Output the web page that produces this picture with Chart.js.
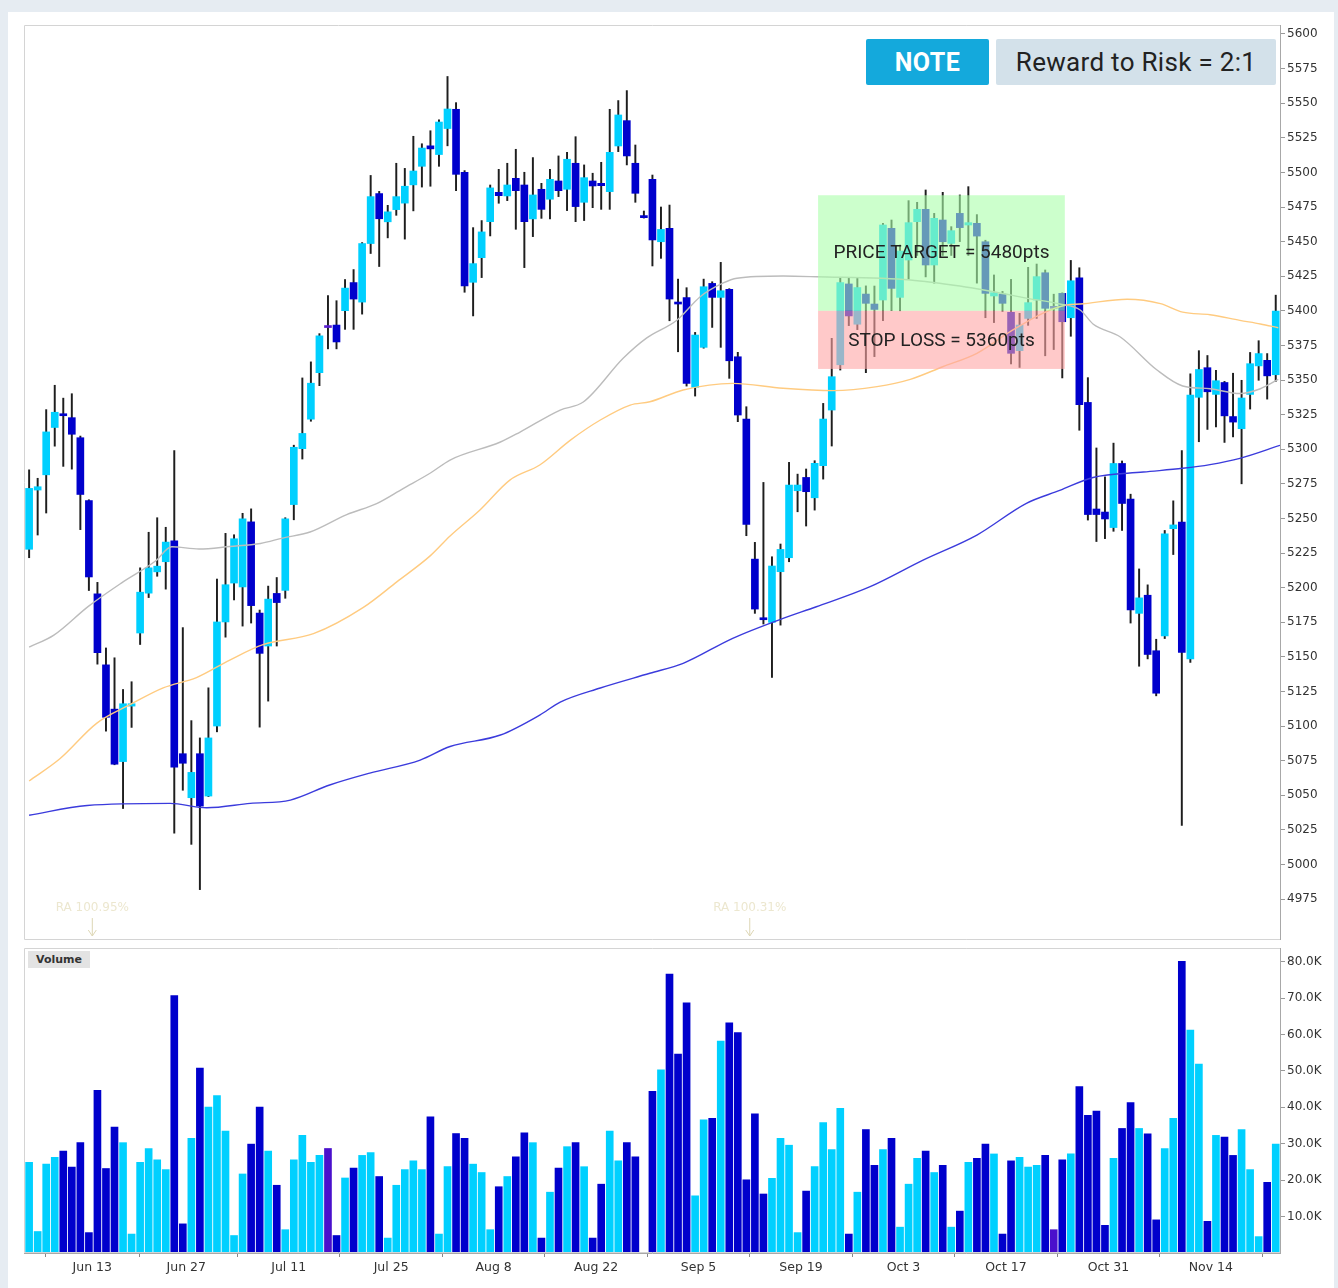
<!DOCTYPE html>
<html><head><meta charset="utf-8">
<script src="https://cdn.jsdelivr.net/npm/chart.js@4"></script>
<style>
html,body{margin:0;padding:0;width:1338px;height:1288px;overflow:hidden;background:#e6ecf2;}
#panel{position:absolute;left:8px;top:12px;width:1326px;height:1276px;background:#fff;}
#pc{position:absolute;left:24px;top:25px;}
#vc{position:absolute;left:24px;top:948px;}
.note{position:absolute;left:866px;top:39px;width:123px;height:46px;background:#14a9dc;color:#fff;font:bold 25px Roboto,'Noto Sans',sans-serif;display:flex;align-items:center;justify-content:center;border-radius:2px;letter-spacing:0.5px;}
.rr{position:absolute;left:996px;top:39px;width:280px;height:46px;background:#d3e1ea;color:#222;font:26px Roboto,'Noto Sans',sans-serif;display:flex;align-items:center;justify-content:center;border-radius:2px;letter-spacing:0.3px;}
.vol{position:absolute;left:28px;top:951px;width:62px;height:17px;background:#e3e3e3;color:#333;font:bold 11px 'DejaVu Sans',sans-serif;display:flex;align-items:center;justify-content:center;}
</style></head>
<body>
<div id="panel"></div>
<canvas id="pc" width="1314" height="915"></canvas>
<canvas id="vc" width="1314" height="340"></canvas>
<div class="note">NOTE</div>
<div class="rr">Reward to Risk = 2:1</div>
<div class="vol">Volume</div>
<script>
// ---- data (one entry per trading session) ----
const opens = [5227.7,5270.5,5281.5,5315.7,5325.4,5322.8,5308.3,5262.9,5195.5,5144.2,5112.2,5074.3,5114.4,5167.2,5196.0,5211.4,5218.7,5233.8,5080.0,5048.2,5080.0,5049.4,5100.0,5175.2,5203.3,5200.5,5247.5,5181.6,5157.8,5195.8,5198.0,5260.0,5300.4,5321.7,5355.3,5387.9,5389.7,5400.1,5420.4,5406.3,5448.6,5484.7,5464.3,5473.1,5477.8,5491.0,5504.4,5519.2,5512.9,5531.7,5545.6,5500.1,5420.6,5438.4,5464.4,5485.6,5483.0,5495.7,5490.9,5466.4,5487.8,5480.6,5493.8,5487.8,5506.6,5478.4,5493.8,5492.1,5486.1,5519.1,5537.4,5506.6,5468.8,5495.0,5449.9,5459.6,5405.6,5409.5,5344.7,5373.6,5419.8,5409.7,5415.5,5366.8,5321.8,5220.6,5177.5,5174.9,5211.5,5221.6,5270.0,5279.6,5264.9,5288.1,5328.3,5361.0,5419.4,5390.3,5412.1,5404.9,5407.8,5459.6,5409.7,5436.7,5464.4,5473.3,5433.1,5465.6,5448.7,5470.4,5462.0,5463.2,5449.9,5410.7,5412.1,5398.9,5371.2,5394.5,5407.8,5427.5,5401.8,5412.6,5395.0,5423.9,5333.8,5256.8,5254.6,5243.4,5289.7,5264.0,5181.4,5194.5,5154.4,5165.1,5242.6,5247.4,5148.5,5337.5,5358.9,5339.6,5348.2,5323.6,5314.8,5339.6,5360.2,5364.2,5353.8];
const highs = [5285.1,5279.0,5328.6,5346.2,5336.9,5340.1,5309.5,5263.5,5203.8,5156.4,5149.3,5126.4,5132.0,5214.3,5240.0,5250.5,5243.6,5299.1,5171.1,5103.9,5091.4,5127.6,5206.2,5239.2,5238.2,5253.7,5256.9,5183.8,5201.1,5207.3,5250.5,5302.9,5351.5,5363.1,5383.5,5411.0,5407.3,5422.6,5429.8,5449.3,5497.8,5486.3,5476.2,5506.6,5502.9,5526.1,5520.7,5530.1,5538.0,5569.3,5550.4,5501.3,5460.1,5465.2,5490.9,5502.2,5506.6,5516.7,5500.1,5510.7,5492.1,5502.2,5511.9,5514.5,5525.8,5505.4,5499.4,5507.3,5545.6,5551.9,5559.1,5519.8,5472.1,5498.1,5475.0,5476.4,5422.9,5416.7,5384.4,5422.9,5421.0,5435.0,5416.0,5370.0,5330.7,5232.7,5276.0,5222.3,5231.5,5290.5,5282.0,5285.7,5291.7,5333.1,5380.1,5423.9,5423.9,5423.9,5418.0,5417.9,5463.2,5465.6,5447.5,5479.6,5478.4,5487.3,5470.4,5485.6,5460.8,5483.7,5489.7,5469.5,5451.0,5425.9,5414.0,5422.7,5398.2,5431.4,5433.8,5429.5,5412.0,5413.0,5436.4,5431.1,5351.7,5300.9,5280.0,5304.4,5291.5,5267.5,5213.5,5202.0,5162.7,5241.3,5262.7,5299.0,5354.4,5371.2,5367.7,5357.0,5349.0,5354.9,5349.8,5369.9,5378.4,5369.1,5411.3];
const lows = [5221.6,5238.0,5253.9,5302.2,5287.6,5285.6,5241.9,5197.9,5144.7,5096.3,5072.0,5040.4,5099.0,5158.9,5192.8,5208.2,5198.9,5022.6,5053.6,5014.5,4981.8,5049.0,5095.8,5164.2,5191.1,5172.2,5174.4,5099.2,5118.0,5157.8,5192.3,5249.0,5292.9,5320.2,5345.9,5372.5,5372.5,5386.6,5386.6,5397.6,5441.4,5432.0,5452.7,5469.0,5451.8,5472.2,5489.4,5490.0,5504.4,5519.2,5486.8,5413.4,5396.3,5424.0,5454.1,5477.7,5479.6,5458.9,5431.2,5453.6,5466.8,5466.4,5482.5,5472.4,5464.4,5465.2,5474.5,5473.3,5473.3,5515.0,5505.4,5478.4,5467.0,5432.4,5437.9,5392.8,5370.4,5345.6,5338.4,5373.0,5388.0,5373.6,5351.2,5319.9,5237.5,5181.4,5173.7,5135.1,5172.9,5218.7,5254.8,5244.5,5256.0,5278.4,5302.3,5357.2,5389.3,5386.4,5355.3,5366.9,5392.9,5400.1,5400.0,5422.7,5440.0,5424.5,5420.0,5440.0,5440.0,5450.0,5440.0,5420.0,5395.0,5391.5,5399.5,5361.6,5359.1,5389.5,5394.5,5367.5,5372.0,5351.5,5381.6,5313.7,5248.8,5233.3,5235.4,5240.7,5241.3,5174.4,5143.2,5148.5,5121.8,5163.2,5223.9,5028.2,5145.9,5305.4,5314.3,5316.1,5304.9,5308.9,5275.0,5329.0,5349.8,5336.2,5349.0];
const closes = [5271.7,5272.9,5312.5,5326.7,5324.2,5310.8,5267.3,5207.7,5153.0,5106.3,5072.4,5116.1,5116.1,5196.7,5214.3,5215.5,5232.9,5070.2,5073.1,5066.5,5042.1,5091.4,5175.2,5202.1,5235.3,5249.7,5187.0,5152.5,5191.7,5189.2,5249.7,5301.4,5311.4,5347.7,5381.9,5387.9,5377.5,5416.4,5408.5,5448.6,5482.5,5466.5,5471.5,5482.5,5490.0,5501.0,5517.6,5517.0,5536.4,5545.8,5498.6,5417.9,5434.1,5457.0,5488.8,5483.2,5490.9,5486.8,5464.4,5483.7,5473.3,5495.0,5486.8,5509.5,5475.3,5496.2,5490.2,5490.4,5514.5,5541.5,5511.9,5484.9,5467.3,5451.2,5458.8,5408.5,5404.9,5347.6,5382.5,5417.4,5409.7,5414.5,5363.9,5324.7,5245.7,5184.5,5176.8,5215.6,5227.6,5274.1,5274.1,5269.3,5289.8,5321.8,5352.4,5420.4,5396.3,5416.8,5405.4,5401.0,5462.0,5416.2,5443.2,5463.7,5473.3,5433.1,5466.8,5449.9,5457.9,5460.1,5463.7,5454.0,5412.6,5413.1,5405.4,5369.3,5389.7,5405.9,5424.7,5401.8,5401.8,5392.1,5421.7,5332.2,5252.8,5252.8,5249.6,5289.7,5260.8,5183.8,5192.6,5151.7,5123.7,5238.9,5245.3,5153.1,5339.1,5357.6,5341.5,5349.5,5324.1,5319.6,5337.0,5361.8,5369.1,5353.0,5399.8];
const volumes = [24.9,5.9,24.4,26.3,28.0,23.6,30.3,5.6,44.7,23.2,34.6,30.3,5.2,24.9,28.7,25.6,22.9,70.7,8.0,31.5,50.8,40.1,43.2,33.5,4.8,21.7,29.9,40.1,28.0,18.6,6.4,25.6,32.3,24.9,26.8,28.7,4.8,20.6,23.3,26.8,27.6,21.0,4.1,18.6,22.9,25.3,22.9,37.4,5.2,23.7,32.8,31.5,24.4,22.1,6.4,18.2,21.0,26.4,33.0,30.3,4.1,16.7,23.3,29.2,30.3,23.7,4.1,18.9,33.5,25.3,30.3,26.4,0,44.4,50.3,76.6,54.6,68.7,15.7,36.6,37.0,58.2,63.2,60.5,20.1,38.2,16.2,20.5,31.5,29.6,5.6,17.0,23.7,35.8,28.4,39.7,5.2,16.7,33.9,24.1,28.4,31.5,7.1,18.9,26.0,28.0,22.1,24.1,7.1,11.5,24.9,26.0,29.9,27.2,5.2,25.3,26.3,23.6,24.1,26.8,6.4,25.6,27.2,45.7,37.8,39.0,7.6,26.0,34.2,41.3,34.2,32.7,9.1,28.7,37.0,80.1,61.2,51.9,8.7,32.3,31.8,26.8,33.9,22.9,4.5,19.4,29.9];
// moving averages: [session index, value]
const maGray = [[0,5157],[2.9,5165.7],[6.9,5186.3],[10.8,5203.3],[14.8,5219.2],[16.7,5229.5],[19.9,5227.9],[23.5,5229.7],[27.1,5231.9],[29.7,5235.8],[32.9,5240.2],[37.2,5252.8],[40.7,5260.7],[43.8,5271.6],[47,5282.8],[49.3,5292.2],[55.2,5305.2],[57.5,5312.4],[62.2,5328.3],[64.9,5334.1],[69.6,5365.9],[72.3,5380.3],[75.9,5393.4],[78.6,5410.2],[81.3,5420.1],[82.9,5423.5],[88.3,5425.1],[92.2,5424.6],[103.2,5422.3],[109,5417.9],[112.9,5413.8],[116.8,5409.2],[120.7,5404.9],[123.1,5400.6],[124.6,5390.5],[127.8,5381.1],[132.1,5357.2],[135.1,5345.7],[138.3,5343.7],[141.8,5340.2],[144.2,5343.7],[146.3,5350.4]];
const maOrange = [[0,5060.3],[3.6,5076.3],[7.9,5101.9],[11.8,5115.4],[15.7,5127.6],[19.6,5135],[23.5,5147.7],[27.4,5158.8],[33.3,5166.7],[39.1,5185.5],[43.1,5204.3],[47,5223.1],[49.3,5237.3],[52.8,5256.1],[56.3,5277.7],[59.8,5288.6],[63.4,5306.6],[66.9,5321.1],[70.4,5331.9],[72.7,5334.3],[76.6,5342.8],[82.4,5347.6],[88.3,5344],[94.2,5342.3],[99.3,5345.2],[103.2,5350.5],[107,5359.6],[111,5369.3],[114.9,5384.9],[118.7,5398.2],[121.5,5404.2],[123.1,5404.9],[128.6,5408.4],[132.5,5405.2],[135.1,5399],[138.3,5397.2],[141.8,5393.1],[144.2,5390.5],[146.3,5387.8]];
const maBlue = [[0,5035.5],[6.8,5042.6],[16.5,5044.1],[20.8,5040.9],[25.9,5044.1],[30.6,5046.5],[35.2,5057.4],[39.9,5066],[45.8,5075.4],[49.3,5085.2],[55.2,5093.5],[59.8,5107.9],[62.2,5117.3],[66.9,5127.5],[72.7,5138.1],[76.6,5145.3],[82.4,5163.4],[88.3,5177.8],[92.2,5186.2],[98.5,5200.7],[104.7,5219.9],[111,5238],[116.8,5260.9],[120.7,5270.2],[124.6,5279.6],[130.5,5283.5],[135.1,5286.2],[138.3,5288.9],[141.8,5293.4],[146.5,5302.8]];
const tickPos = [7.4,18.4,30.4,42.4,54.4,66.4,78.4,90.4,102.4,114.4,126.4,138.4];
const tickLabels = ['Jun 13','Jun 27','Jul 11','Jul 25','Aug 8','Aug 22','Sep 5','Sep 19','Oct 3','Oct 17','Oct 31','Nov 14'];
const zone = {from:92.4, to:121.3, stop:5358, entry:5400, target:5483.5};
const zoneLabels = ['PRICE TARGET = 5480pts','STOP LOSS = 5360pts'];
const raNotes = [{x:7.4, text:'RA 100.95%'},{x:84.4, text:'RA 100.31%'}];
const raLevel = 4968.5;

// ---- styling ----
const UP='#00d0ff', DOWN='#0000cc', DOJI='#5a1fd1';
const col = i => closes[i]>opens[i]?UP:(closes[i]<opens[i]?DOWN:DOJI);
const N = opens.length;
const idx = [...Array(N).keys()];
const XMIN=-0.6, XMAX=146.5;
const AXFONT = {family:'DejaVu Sans', size:12};

const frame = {
  id:'frame',
  afterDraw(c){
    const a=c.chartArea, ctx=c.ctx;
    ctx.save(); ctx.strokeStyle='#d4d4d4'; ctx.lineWidth=1;
    ctx.beginPath(); ctx.moveTo(a.right,a.top+0.5); ctx.lineTo(a.left+0.5,a.top+0.5); ctx.lineTo(a.left+0.5,a.bottom-0.5); ctx.lineTo(a.right,a.bottom-0.5); ctx.stroke();
    ctx.restore();
  }
};

const zonePlugin = {
  id:'zone',
  afterDatasetsDraw(c){
    const x=c.scales.x, y=c.scales.y, ctx=c.ctx;
    const x0=x.getPixelForValue(zone.from), x1=x.getPixelForValue(zone.to);
    const yt=y.getPixelForValue(zone.target), ye=y.getPixelForValue(zone.entry), ys=y.getPixelForValue(zone.stop);
    ctx.save();
    ctx.fillStyle='rgba(170,255,170,0.6)'; ctx.fillRect(x0,yt,x1-x0,ye-yt);
    ctx.fillStyle='rgba(255,165,165,0.6)'; ctx.fillRect(x0,ye,x1-x0,ys-ye);
    ctx.fillStyle='#222'; ctx.font='19px Roboto'; ctx.textAlign='center'; ctx.textBaseline='middle';
    ctx.fillText(zoneLabels[0],(x0+x1)/2,(yt+ye)/2);
    ctx.fillText(zoneLabels[1],(x0+x1)/2,(ye+ys)/2+1);
    // RA notes
    ctx.font='12px DejaVu Sans'; ctx.fillStyle='#ece7cf'; ctx.strokeStyle='#ddd6b4';
    raNotes.forEach(n=>{
      const px=x.getPixelForValue(n.x), py=y.getPixelForValue(raLevel);
      ctx.fillText(n.text,px,py);
      ctx.beginPath(); ctx.moveTo(px,py+10); ctx.lineTo(px,py+28); ctx.stroke();
      ctx.beginPath(); ctx.moveTo(px-4,py+22); ctx.lineTo(px,py+28); ctx.lineTo(px+4,py+22); ctx.stroke();
    });
    ctx.restore();
  }
};

const lineDs = (arr,color,w) => ({type:'line', data:arr.map(p=>({x:p[0],y:p[1]})), borderColor:color, borderWidth:w, pointRadius:0, cubicInterpolationMode:'monotone', fill:false, order:0});

new Chart(document.getElementById('pc'), {
  type:'bar',
  data:{datasets:[
    lineDs(maGray,'#bcbcbc',1.4),
    lineDs(maOrange,'#ffcb80',1.4),
    lineDs(maBlue,'#3b3bdc',1.4),
    {data:idx.map(i=>({x:i,y:[opens[i],closes[i]]})), backgroundColor:idx.map(col), barThickness:7, minBarLength:2, grouped:false, order:1},
    {data:idx.map(i=>({x:i,y:[lows[i],highs[i]]})), backgroundColor:'#1e1e1e', barThickness:1.3, grouped:false, order:2}
  ]},
  options:{
    responsive:false, animation:false, devicePixelRatio:1,
    layout:{padding:0},
    plugins:{legend:{display:false}, tooltip:{enabled:false}},
    scales:{
      x:{type:'linear', min:XMIN, max:XMAX, offset:false, display:false},
      y:{position:'right', min:4945.4, max:5606.5,
        ticks:{stepSize:25, includeBounds:false, color:'#333', font:AXFONT, padding:2, callback:v=>String(v)},
        grid:{drawOnChartArea:false, drawTicks:true, tickLength:5, color:'#999'},
        border:{display:true, color:'#a8a8a8'},
        afterBuildTicks:s=>{s.ticks=s.ticks.filter(t=>t.value>=4975 && t.value<=5600);},
        afterFit:s=>{s.width=58; s.paddingTop=0; s.paddingBottom=0;}
      }
    }
  },
  plugins:[zonePlugin, frame]
});

new Chart(document.getElementById('vc'), {
  type:'bar',
  data:{datasets:[
    {data:idx.map(i=>({x:i,y:volumes[i]})), backgroundColor:idx.map(i=>closes[i]===opens[i]?'#4a10cc':col(i)), barThickness:7, grouped:false}
  ]},
  options:{
    responsive:false, animation:false, devicePixelRatio:1,
    layout:{padding:0},
    plugins:{legend:{display:false}, tooltip:{enabled:false}},
    scales:{
      x:{type:'linear', min:XMIN, max:XMAX, offset:false, position:'bottom',
        afterBuildTicks:s=>{s.ticks=tickPos.map(v=>({value:v}));},
        ticks:{autoSkip:false, maxRotation:0, color:'#333', font:{family:'DejaVu Sans', size:12.5}, padding:3, callback:(v,i)=>tickLabels[i]},
        grid:{drawOnChartArea:false, tickLength:4, color:'#888'},
        border:{display:true, color:'#a8a8a8'},
        afterFit:s=>{s.height=35; s.paddingLeft=0; s.paddingRight=0;}
      },
      y:{position:'right', min:0, max:83.75,
        ticks:{stepSize:10, includeBounds:false, color:'#333', font:AXFONT, padding:2, callback:v=>v.toFixed(1)+'K'},
        grid:{drawOnChartArea:false, tickLength:5, color:'#999'},
        border:{display:true, color:'#a8a8a8'},
        afterBuildTicks:s=>{s.ticks=s.ticks.filter(t=>t.value>0 && t.value<=80);},
        afterFit:s=>{s.width=58; s.paddingTop=0; s.paddingBottom=0;}
      }
    }
  },
  plugins:[frame]
});
</script>
</body></html>
